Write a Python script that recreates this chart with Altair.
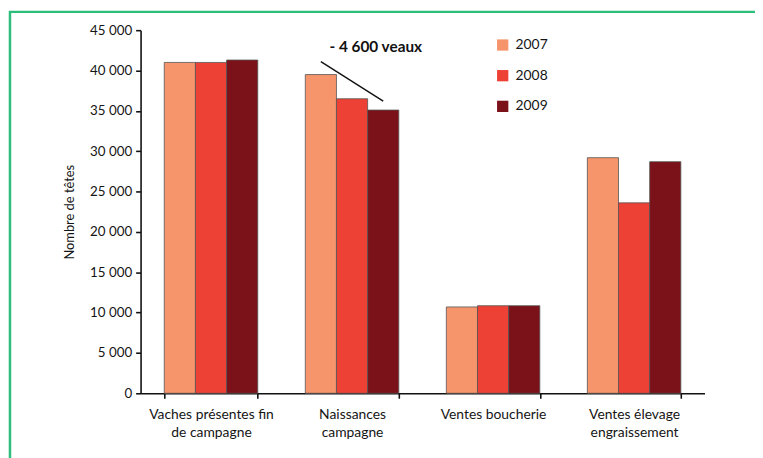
import altair as alt
import pandas as pd

categories = ["Vaches présentes fin de campagne", "Naissances campagne",
              "Ventes boucherie", "Ventes élevage engraissement"]
label_lines = [["Vaches présentes fin", "de campagne"], ["Naissances", "campagne"],
               ["Ventes boucherie"], ["Ventes élevage", "engraissement"]]
years = ["2007", "2008", "2009"]
v2007 = [41000, 39500, 10700, 29200]
v2008 = [41000, 36500, 10850, 23600]
v2009 = [41300, 35100, 10850, 28700]
colors = ["#F6956B", "#EE4136", "#7B1219"]

rows = []
for i, c in enumerate(categories):
    for y, vals in zip(years, [v2007, v2008, v2009]):
        rows.append({"cat": c, "year": y, "val": vals[i]})
df = pd.DataFrame(rows)

ann_line = pd.DataFrame([
    {"cat": categories[1], "year": "2007", "val": 41100},
    {"cat": categories[1], "year": "2009", "val": 36200},
])
ann_text = pd.DataFrame([{"cat": categories[1], "year": "2008", "val": 42900, "t": "- 4 600 veaux"}])

expr = ""
for c, ll in zip(categories, label_lines):
    arr = "[" + ",".join("'" + s + "'" for s in ll) + "]"
    expr += f"datum.value == '{c}' ? {arr} : "
expr += "datum.label"

FONT = "Lato"
TXT = "#151515"

xs = alt.X("cat:N", sort=categories,
           scale=alt.Scale(paddingInner=0.337, paddingOuter=0.168),
           axis=alt.Axis(title=None, labelAngle=0, labelExpr=expr, tickBand="extent",
                         labelFontSize=14, labelColor=TXT, labelPadding=9,
                         labelLineHeight=19, domainColor="#111", domainWidth=1.6,
                         tickColor="#111", tickSize=5, tickWidth=1.6, labelFont=FONT))
ys = alt.Y("val:Q", scale=alt.Scale(domain=[0, 45000]),
           axis=alt.Axis(title="Nombre de têtes", values=list(range(0, 45001, 5000)),
                         labelExpr="replace(format(datum.value, ','), ',', '\u202f')",
                         grid=False, labelFontSize=13.5, labelColor=TXT, labelPadding=4,
                         titleFontSize=13, titleFontWeight="normal", titleColor=TXT,
                         titlePadding=13, domainColor="#111", domainWidth=1.6,
                         tickColor="#111", tickSize=5, tickWidth=1.6,
                         labelFont=FONT, titleFont=FONT))
xo = alt.XOffset("year:N", sort=years)

bars = alt.Chart(df).mark_bar(stroke="#555", strokeWidth=0.8).encode(
    x=xs, y=ys, xOffset=xo,
    color=alt.Color("year:N", sort=years, scale=alt.Scale(domain=years, range=colors),
                    legend=alt.Legend(title=None, orient="none", legendX=359, legendY=8,
                                      symbolType="square", symbolSize=130,
                                      symbolStrokeWidth=0, labelFontSize=14,
                                      labelColor=TXT, rowPadding=17, labelFont=FONT,
                                      labelOffset=6)),
)

line = alt.Chart(ann_line).mark_line(color="#111", strokeWidth=1.4).encode(
    x=alt.X("cat:N", sort=categories), y="val:Q", xOffset=alt.XOffset("year:N", sort=years))

text = alt.Chart(ann_text).mark_text(fontWeight="bold", fontSize=15.5, color="#111",
                                     dx=24, font=FONT).encode(
    x=alt.X("cat:N", sort=categories), y="val:Q",
    xOffset=alt.XOffset("year:N", sort=years), text="t:N")

frame = alt.Chart(alt.Data(values=[{}])).mark_rect(
    fill=None, stroke="#2DBE7C", strokeWidth=2.5).encode(
    x=alt.value(-132), x2=alt.value(900), y=alt.value(-18.5), y2=alt.value(600))

chart = alt.layer(frame, bars, line, text).properties(
    width=570, height=367,
    autosize=alt.AutoSizeParams(type="none"),
    padding={"left": 134, "top": 20, "right": 51, "bottom": 63},
    background="white",
).configure_view(stroke=None)

chart.save("out.html", embed_options={"renderer": "svg", "actions": False})
